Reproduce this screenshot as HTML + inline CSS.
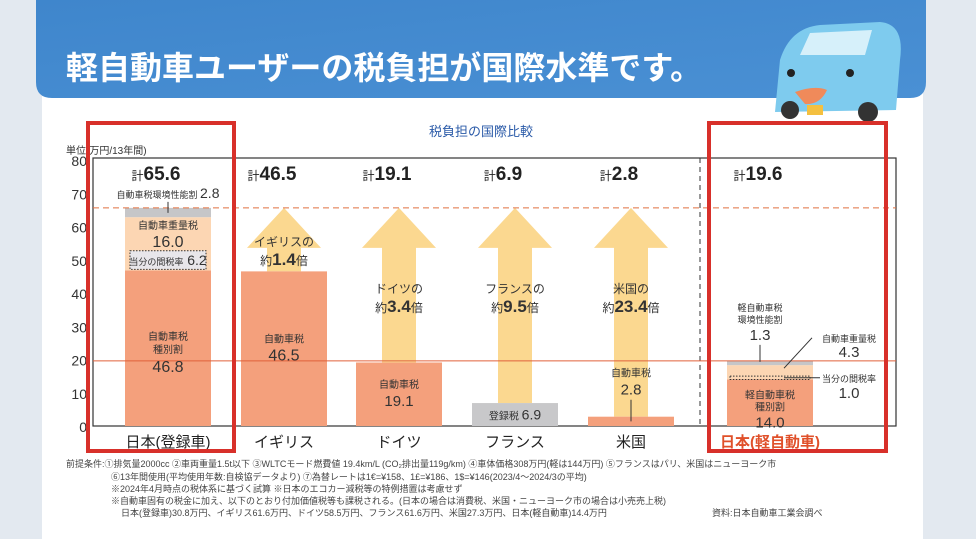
<!DOCTYPE html>
<html><head><meta charset="utf-8"><style>
html,body{margin:0;padding:0;width:976px;height:539px;overflow:hidden;background:#e4eaf1;}
svg{display:block;font-family:"Liberation Sans","Noto Sans CJK JP",sans-serif;}
</style></head><body>
<svg id="chart" width="976" height="539" viewBox="0 0 976 539">
<defs>
<linearGradient id="bg" x1="0" y1="0" x2="1" y2="1"><stop offset="0" stop-color="#3f86cc"/><stop offset="1" stop-color="#4a90d4"/></linearGradient>
</defs>
<rect x="0" y="0" width="976" height="539" fill="#e3e9f0"/>
<rect x="42" y="80" width="881" height="470" fill="#ffffff"/>
<path d="M36 0 H926 V82 Q926 98 910 98 H52 Q36 98 36 82 Z" fill="url(#bg)"/>
<text x="66" y="79" font-size="32" font-weight="bold" fill="#ffffff">軽自動車ユーザーの税負担が国際水準です。</text>
<g>
<path d="M775 112 L780 60 Q790 28 820 25 L880 22 Q905 24 900 60 L896 110 Z" fill="#7ecbee"/>
<path d="M800 55 L810 33 L872 30 L865 55 Z" fill="#d6f0fa"/>
<circle cx="790" cy="110" r="9" fill="#333"/><circle cx="868" cy="112" r="10" fill="#333"/>
<circle cx="791" cy="73" r="4" fill="#222"/><circle cx="850" cy="73" r="4" fill="#222"/>
<path d="M795 92 Q815 85 827 90 Q820 105 805 104 Z" fill="#f08a5a"/>
<rect x="807" y="105" width="16" height="10" fill="#f4c040"/>
</g>
<text x="481" y="136" font-size="13" fill="#2a5aa8" text-anchor="middle">税負担の国際比較</text>
<text x="66" y="154" font-size="10" fill="#333">単位(万円/13年間)</text>
<g id="plot"></g>
<g font-size="9" fill="#444">
<text x="66" y="467">前提条件:①排気量2000cc ②車両重量1.5t以下 ③WLTCモード燃費値 19.4km/L (CO₂排出量119g/km) ④車体価格308万円(軽は144万円) ⑤フランスはパリ、米国はニューヨーク市</text>
<text x="111" y="480">⑥13年間使用(平均使用年数:自検協データより) ⑦為替レートは1€=¥158、1£=¥186、1$=¥146(2023/4～2024/3の平均)</text>
<text x="111" y="492">※2024年4月時点の税体系に基づく試算 ※日本のエコカー減税等の特例措置は考慮せず</text>
<text x="111" y="504">※自動車固有の税金に加え、以下のとおり付加価値税等も課税される。(日本の場合は消費税、米国・ニューヨーク市の場合は小売売上税)</text>
<text x="121" y="516">日本(登録車)30.8万円、イギリス61.6万円、ドイツ58.5万円、フランス61.6万円、米国27.3万円、日本(軽自動車)14.4万円</text>
<text x="712" y="516">資料:日本自動車工業会調べ</text>
</g>
<rect x="88" y="123" width="146" height="328" fill="none" stroke="#d8302a" stroke-width="4"/>
<rect x="709" y="123" width="177" height="328" fill="none" stroke="#d8302a" stroke-width="4"/>
</svg>
<script>
const categories = ["日本(登録車)","イギリス","ドイツ","フランス","米国","日本(軽自動車)"];
const baseTax = [46.8, 46.5, 19.1, 0, 2.8, 14.0];
const weightTax = [16.0, 0, 0, 0, 0, 4.3];
const provisionalTax = [6.2, 0, 0, 0, 0, 1.0];
const envTax = [2.8, 0, 0, 0, 0, 1.3];
const registrationTax = [0, 0, 0, 6.9, 0, 0];
const totals = [65.6, 46.5, 19.1, 6.9, 2.8, 19.6];
const multipliers = ["", "1.4", "3.4", "9.5", "23.4", ""];
const yTicks = [0,10,20,30,40,50,60,70,80];

const NS="http://www.w3.org/2000/svg";
const g=document.getElementById('plot');
const L=93,R=896,T=158,B=426;
const y=v=>B-(v/80)*(B-160);
const centers=[168,284,399,515,631,770];
const bw=86;
function mk(tag,attrs,parent){const e=document.createElementNS(NS,tag);for(const k in attrs)e.setAttribute(k,attrs[k]);(parent||g).appendChild(e);return e;}
function tx(x,yy,s,size,opts){const e=mk('text',Object.assign({x:x,y:yy,'font-size':size,'text-anchor':'middle',fill:'#333'},opts||{}));e.textContent=s;return e;}

const frame=mk('rect',{x:L,y:T,width:R-L,height:B-T,fill:'none',stroke:'#333','stroke-width':1.2});


yTicks.forEach(t=>{const e=tx(L-6,y(t)+6,String(t),14,{'text-anchor':'end',fill:'#333'});

});
const div=mk('line',{x1:700,x2:700,y1:T,y2:B,stroke:'#333','stroke-dasharray':'5,4'});



categories.forEach((c,i)=>{
  if(!multipliers[i])return;
  const cx=centers[i];const top=y(totals[0]);const base=y(baseTax[i]+registrationTax[i]);
  const a=mk('path',{d:`M${cx} ${top} L${cx+37} ${top+40} L${cx+17} ${top+40} L${cx+17} ${base} L${cx-17} ${base} L${cx-17} ${top+40} L${cx-37} ${top+40} Z`,fill:'#fbd890'});
  
  
  const my=(base-top>150)?top+85:top+38;
  const t1=tx(cx,my,categories[i]+'の',12,{fill:'#333'});
  
  
  const t2=mk('text',{x:cx,y:my+19,'text-anchor':'middle',fill:'#333'});
  t2.innerHTML=`<tspan font-size="12">約</tspan><tspan font-size="17" font-weight="bold">${multipliers[i]}</tspan><tspan font-size="12">倍</tspan>`;
  
  
});

categories.forEach((c,i)=>{
  const x0=centers[i]-bw/2;let acc=0;
  function seg(v,color,name){if(!v)return null;const r=mk('rect',{x:x0,y:y(acc+v),width:bw,height:y(acc)-y(acc+v),fill:color});
    
    acc+=v;return r;}
  seg(baseTax[i],'#f4a07c','base-tax');
  seg(registrationTax[i],'#c8c8ca','registration-tax');
  const wStart=acc;
  seg(weightTax[i],'#fcd6b3','weight-tax');
  seg(envTax[i],'#c6c6c8','env-tax');
  const tt=mk('text',{x:centers[i]-12,y:T+22,'text-anchor':'middle',fill:'#222'});
  tt.innerHTML=`<tspan font-size="12">計</tspan><tspan font-size="19" font-weight="bold">${totals[i]}</tspan>`;
  
  
  const cl=tx(centers[i],447,c,15,{fill:i===5?'#e0502a':'#222','font-weight':i===5?'bold':'normal'});
  
  
  if(provisionalTax[i]&&i===0){
    const b=mk('rect',{x:x0+5,y:y(wStart+provisionalTax[i])+1,width:bw-10,height:y(wStart)-y(wStart+provisionalTax[i])-2,fill:'#e8e6ea',stroke:'#333','stroke-dasharray':'1.5,1.5'});
    
    
  }
  if(provisionalTax[i]&&i===5){
    const l=mk('rect',{x:x0+3,y:y(wStart+provisionalTax[i]),width:bw-6,height:y(wStart)-y(wStart+provisionalTax[i]),fill:'none',stroke:'#333','stroke-dasharray':'1.5,1.5'});
    
    
  }
});
const ref=mk('line',{x1:L,x2:R,y1:y(totals[0]),y2:y(totals[0]),stroke:'#e07040','stroke-dasharray':'6,4'});


const kl=mk('line',{x1:L,x2:R,y1:y(totals[5]),y2:y(totals[5]),stroke:'#e0603a','stroke-width':1});



function lab(x,yy,s,size,name){const e=tx(x,yy,s,size,{fill:'#333'});}
const c0=centers[0];
lab(c0,y(baseTax[0]/2)-8,'自動車税',10,'jp-base-title');
lab(c0,y(baseTax[0]/2)+5,'種別割',10,'jp-base-sub');
lab(c0,y(baseTax[0]/2)+24,baseTax[0].toFixed(1),16,'jp-base-value');
lab(c0,y(baseTax[0]+weightTax[0])+12,'自動車重量税',10,'jp-weight-title');
lab(c0,y(baseTax[0]+weightTax[0])+30,weightTax[0].toFixed(1),16,'jp-weight-value');
const pt=mk('text',{x:c0,y:y(baseTax[0]+provisionalTax[0]/2)+5,'text-anchor':'middle',fill:'#333'});
pt.innerHTML=`<tspan font-size="9">当分の間税率</tspan><tspan font-size="14"> ${provisionalTax[0]}</tspan>`;


const et=mk('text',{x:c0,y:y(totals[0])-10,'text-anchor':'middle',fill:'#333'});
et.innerHTML=`<tspan font-size="9">自動車税環境性能割 </tspan><tspan font-size="14">${envTax[0]}</tspan>`;


mk('line',{x1:c0,x2:c0,y1:y(totals[0])-6,y2:y(totals[0])+5,stroke:'#333'});
lab(centers[1],y(baseTax[1]/2)-6,'自動車税',10,'uk-base-title');
lab(centers[1],y(baseTax[1]/2)+12,baseTax[1].toFixed(1),16,'uk-base-value');
lab(centers[2],y(baseTax[2]/2)-6,'自動車税',10,'de-base-title');
lab(centers[2],y(baseTax[2]/2)+12,baseTax[2].toFixed(1),15,'de-base-value');
const fr=mk('text',{x:centers[3],y:y(registrationTax[3]/2)+5,'text-anchor':'middle',fill:'#333'});
fr.innerHTML=`<tspan font-size="10">登録税 </tspan><tspan font-size="14">${registrationTax[3]}</tspan>`;


lab(centers[4],y(baseTax[4])-40,'自動車税',10,'us-base-title');
lab(centers[4],y(baseTax[4])-22,baseTax[4].toFixed(1),15,'us-base-value');
mk('line',{x1:centers[4],x2:centers[4],y1:y(baseTax[4])-17,y2:y(baseTax[4]/2),stroke:'#333'});
const c5=centers[5];
lab(c5,y(baseTax[5]/2)-4,'軽自動車税',10,'kei-base-title');
lab(c5,y(baseTax[5]/2)+8,'種別割',10,'kei-base-sub');
lab(c5,y(baseTax[5]/2)+25,baseTax[5].toFixed(1),15,'kei-base-value');
lab(c5-10,y(totals[5])-50,'軽自動車税',9,'kei-env-title');
lab(c5-10,y(totals[5])-38,'環境性能割',9,'kei-env-sub');
lab(c5-10,y(totals[5])-21,envTax[5].toFixed(1),15,'kei-env-value');
mk('line',{x1:c5-10,x2:c5-10,y1:y(totals[5])-16,y2:y(totals[5])+1,stroke:'#333'});
lab(c5+79,y(totals[5])-19,'自動車重量税',9,'kei-weight-title');
lab(c5+79,y(totals[5])-4,weightTax[5].toFixed(1),15,'kei-weight-value');
mk('line',{x1:c5+14,x2:c5+42,y1:y(totals[5]-envTax[5])+3,y2:y(totals[5])-23,stroke:'#333'});
lab(c5+79,y(baseTax[5]+provisionalTax[5]/2)+4,'当分の間税率',9,'kei-prov-title');
lab(c5+79,y(baseTax[5]+provisionalTax[5]/2)+20,provisionalTax[5].toFixed(1),15,'kei-prov-value');
mk('line',{x1:c5+14,x2:c5+50,y1:y(baseTax[5]+provisionalTax[5]/2),y2:y(baseTax[5]+provisionalTax[5]/2),stroke:'#333'});
</script>
</body></html>
